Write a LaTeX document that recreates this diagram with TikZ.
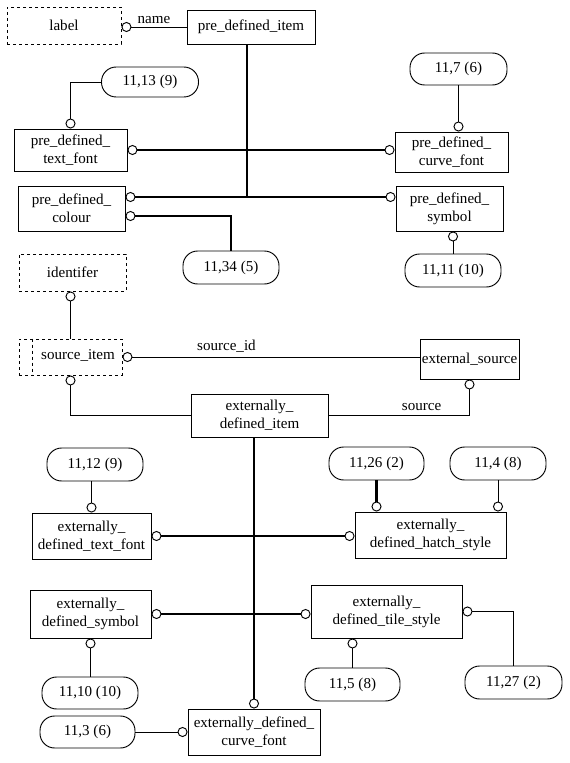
\documentclass[tikz,border=0pt]{standalone}
\usepackage{fontspec}
\setmainfont{Liberation Serif}
\usetikzlibrary{arrows.meta,calc}

\tikzset{
  every node/.style={font=\fontsize{11.3pt}{13.5pt}\selectfont},
  ent/.style 2 args={draw, line width=0.7pt, inner sep=0pt, align=center, minimum width=#1*0.75pt, minimum height=#2*0.75pt},
  typ/.style 2 args={ent={#1}{#2}, dash pattern=on 2.5pt off 2pt},
  pill/.style 2 args={ent={#1}{#2}, rounded corners=11pt},
  thinrel/.style={line width=0.7pt},
  thickrel/.style={line width=1.6pt},
  ring/.tip={Circle[open,length=7.5pt,line width=0.7pt]}
}

\begin{document}
\begin{tikzpicture}[x=0.75pt,y=-0.75pt]
    \useasboundingbox (0,0) rectangle (570,763);
    % pre_defined_item part
    \node[typ={114}{37}] (label) at (64,25.5) {label};
    \node[ent={128}{34}] (pdi) at (251,27) {pre\_defined\_item};
    \node[pill={97}{30}] (p1113) at (150,82) {11,13 (9)};
    \node[ent={113}{42}] (ptf) at (70.5,150) {pre\_defined\_\\text\_font};
    \node[pill={97}{32}] (p117) at (458.5,69) {11,7 (6)};
    \node[ent={113}{40}] (pcf) at (451.5,152) {pre\_defined\_\\curve\_font};
    \node[ent={107}{45}] (pcol) at (71.5,208.5) {pre\_defined\_\\colour};
    \node[ent={107}{45}] (psym) at (449.5,208.5) {pre\_defined\_\\symbol};
    \node[pill={96}{33}] (p1134) at (231,267.5) {11,34 (5)};
    \node[pill={96}{33}] (p1111) at (453,270.5) {11,11 (10)};
    \coordinate (spine1) at (247,197);

    \draw[thinrel,-ring] (pdi.west) -- (pdi.west -| label.east) node[pos=.5,above=-1pt] (lname) {name};
    \draw[thickrel] (pdi.south -| spine1) -- (spine1);
    \draw[thickrel,ring-ring] (ptf.east) -- (ptf.east -| pcf.west);
    \draw[thickrel,ring-ring] (pcol.east |- spine1) -- (psym.west |- spine1);
    \draw[thickrel,ring-] ($(pcol.east)+(0,7.5)$) -| (p1134.north);
    \draw[thinrel,-ring] (p1113.west) -| (ptf.north);
    \draw[thinrel,-ring] (p117.south) -- (p117.south |- pcf.north);
    \draw[thinrel,ring-] (p1111.north |- psym.south) -- (p1111.north);

    % source part
    \node[typ={107}{37}] (ident) at (72.5,272.5) {identifer};
    \node[typ={103}{36}] (srcitem) at (70.5,357) {};
    \node (srctext) at (78,355) {source\_item};
    \draw[dash pattern=on 2.5pt off 2pt,line width=0.7pt] ([xshift=10.5pt]srcitem.north west) -- ([xshift=10.5pt]srcitem.south west);
    \node[ent={99}{40}] (extsrc) at (469.5,359) {external\_source};
    \node[ent={137}{43}] (edi) at (259.5,415.5) {externally\_\\defined\_item};

    \draw[thinrel,ring-] (ident.south -| srcitem.north) -- (srcitem.north);
    \draw[thinrel,ring-] (srcitem.east) -- (srcitem.east -| extsrc.west) node[pos=.35,above] (lsrcid) {source\_id};
    \draw[thinrel,ring-] (srcitem.south) |- (edi.west);
    \draw[thinrel,ring-] (extsrc.south) |- (edi.east) node[pos=.67,above] (lsrc) {source};

    % externally_defined_item part
    \node[pill={96}{33}] (p1112) at (95,464.5) {11,12 (9)};
    \node[ent={119}{46}] (edtf) at (91.5,536) {externally\_\\defined\_text\_font};
    \node[pill={95}{33}] (p1126) at (376.5,463.5) {11,26 (2)};
    \node[pill={96}{33}] (p114) at (498,463.5) {11,4 (8)};
    \node[ent={151}{46}] (edhs) at (430.5,535) {externally\_\\defined\_hatch\_style};
    \node[ent={121}{48}] (edsym) at (90.5,614) {externally\_\\defined\_symbol};
    \node[ent={151}{53}] (edts) at (386.5,611.5) {externally\_\\defined\_tile\_style};
    \node[pill={96}{32}] (p1110) at (90,693) {11,10 (10)};
    \node[pill={95}{33}] (p115) at (352.5,684.5) {11,5 (8)};
    \node[pill={97}{33}] (p1127) at (513.5,682.5) {11,27 (2)};
    \node[pill={95}{32}] (p113) at (87.5,732) {11,3 (6)};
    \node[ent={132}{46}] (edcf) at (254,732) {externally\_defined\_\\curve\_font};

    \draw[thickrel,-ring] (edi.south -| edcf.north) -- (edcf.north);
    \draw[thickrel,ring-ring] (edtf.east) -- (edtf.east -| edhs.west);
    \draw[thickrel,ring-ring] (edsym.east) -- (edsym.east -| edts.west);
    \draw[thinrel,-ring] (edtf.north |- p1112.south) -- (edtf.north);
    \draw[thickrel,-ring] (p1126.south) -- (p1126.south |- edhs.north);
    \draw[thinrel,-ring] (p114.south) -- (p114.south |- edhs.north);
    \draw[thinrel,ring-] (edsym.south) -- (edsym.south |- p1110.north);
    \draw[thinrel,ring-] (edts.east) -| (p1127.north);
    \draw[thinrel,ring-] (p115.north |- edts.south) -- (p115.north);
    \draw[thinrel,-ring] (p113.east) -- (edcf.west);
\end{tikzpicture}
\end{document}
